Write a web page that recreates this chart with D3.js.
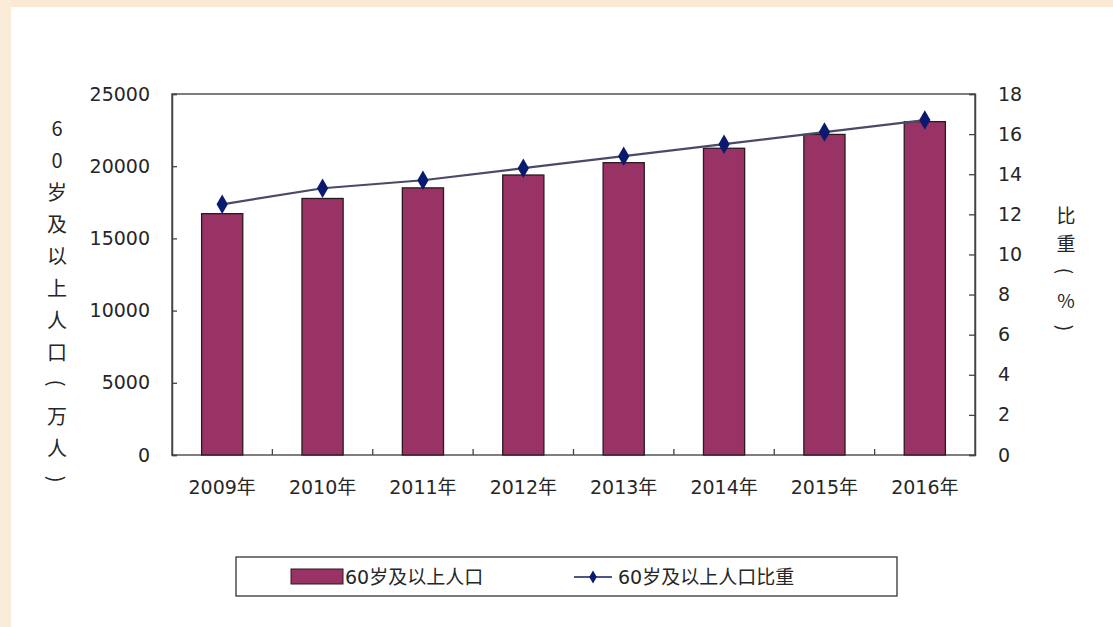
<!DOCTYPE html>
<html lang="zh">
<head>
<meta charset="utf-8">
<title>60岁及以上人口</title>
<style>
  html, body { margin: 0; padding: 0; background: #fff; }
  svg { display: block; }
  text { font-family: "DejaVu Sans", "Noto Sans CJK SC", sans-serif; fill: #262626; }
  .vtitle { font-family: "Noto Sans CJK SC", sans-serif; }
</style>
</head>
<body>
<script src="https://cdn.jsdelivr.net/npm/d3@7"></script>
<script>
// data
const years = ["2009年", "2010年", "2011年", "2012年", "2013年", "2014年", "2015年", "2016年"];
const population = [16714, 17765, 18499, 19390, 20243, 21242, 22200, 23086];
const share = [12.5, 13.3, 13.7, 14.3, 14.9, 15.5, 16.1, 16.7];
const leftTicks = [0, 5000, 10000, 15000, 20000, 25000];
const rightTicks = [0, 2, 4, 6, 8, 10, 12, 14, 16, 18];
const leftTitle = ["6", "0", "岁", "及", "以", "上", "人", "口", "(", "万", "人", ")"];
const rightTitle = ["比", "重", "(", "%", ")"];
const legendNames = ["60岁及以上人口", "60岁及以上人口比重"];

const W = 1113, H = 627;
const plot = {left: 172, right: 975, top: 94, bottom: 455};

const svg = d3.select("body").append("svg")
    .attr("width", W)
    .attr("height", H);

// beige frame strips
svg.append("rect").attr("x", 0).attr("y", 0).attr("width", W).attr("height", 7).attr("fill", "#fbe9d6");
svg.append("rect").attr("x", 0).attr("y", 0).attr("width", 11).attr("height", H).attr("fill", "#fbebd9");

const x = d3.scaleBand()
    .domain(years)
    .range([plot.left, plot.right])
    .paddingInner(0.59)
    .paddingOuter(0.295);

const xOuter = d3.scaleBand()
    .domain(years)
    .range([plot.left, plot.right]);

const yL = d3.scaleLinear().domain([0, 25000]).range([plot.bottom, plot.top]);
const yR = d3.scaleLinear().domain([0, 18]).range([plot.bottom, plot.top]);

// plot border
svg.append("rect")
    .attr("x", plot.left).attr("y", plot.top)
    .attr("width", plot.right - plot.left)
    .attr("height", plot.bottom - plot.top)
    .attr("fill", "none")
    .attr("stroke", "#555")
    .attr("stroke-width", 1.5);

// bars
svg.selectAll("rect.bar")
    .data(population)
    .enter()
    .append("rect")
    .attr("class", "bar")
    .attr("x", (d, i) => x(years[i]))
    .attr("y", d => yL(d))
    .attr("width", x.bandwidth())
    .attr("height", d => plot.bottom - yL(d))
    .attr("fill", "#993366")
    .attr("stroke", "#2a1a20")
    .attr("stroke-width", 1.3);

// left axis
const leftAxis = d3.axisLeft(yL).tickValues(leftTicks).tickFormat(d3.format("d")).tickSize(-5).tickPadding(22);
const gL = svg.append("g")
    .attr("transform", "translate(" + plot.left + ",0)")
    .call(leftAxis);
gL.select(".domain").attr("stroke", "#444").attr("stroke-width", 1.5);
gL.selectAll(".tick line").attr("stroke", "#444").attr("stroke-width", 1.3);
gL.selectAll("text").style("font-size", "19px").attr("fill", "#262626");

// right axis
const rightAxis = d3.axisRight(yR).tickValues(rightTicks).tickFormat(d3.format("d")).tickSize(-6).tickPadding(23);
const gR = svg.append("g")
    .attr("transform", "translate(" + plot.right + ",0)")
    .call(rightAxis);
gR.select(".domain").attr("stroke", "#444").attr("stroke-width", 1.5);
gR.selectAll(".tick line").attr("stroke", "#444").attr("stroke-width", 1.3);
gR.selectAll("text").style("font-size", "19px").attr("fill", "#262626");

// bottom axis: ticks between categories
const bottomTicks = years.slice(1).map(y => xOuter(y));
const gB = svg.append("g");
gB.selectAll("line")
    .data(bottomTicks)
    .enter()
    .append("line")
    .attr("x1", d => d).attr("x2", d => d)
    .attr("y1", plot.bottom).attr("y2", plot.bottom - 6)
    .attr("stroke", "#444").attr("stroke-width", 1.3);
gB.selectAll("text")
    .data(years)
    .enter()
    .append("text")
    .attr("x", d => xOuter(d) + xOuter.bandwidth() / 2)
    .attr("y", 494)
    .attr("text-anchor", "middle")
    .style("font-size", "19px")
    .text(d => d);

// line series
const line = d3.line()
    .x((d, i) => x(years[i]) + x.bandwidth() / 2)
    .y(d => yR(d));

svg.append("path")
    .datum(share)
    .attr("d", line)
    .attr("fill", "none")
    .attr("stroke", "#4a4a68")
    .attr("stroke-width", 2.2);

const diamond = d3.symbol().type(d3.symbolDiamond).size(110);
svg.selectAll("path.marker")
    .data(share)
    .enter()
    .append("path")
    .attr("class", "marker")
    .attr("d", diamond)
    .attr("transform", (d, i) => "translate(" + (x(years[i]) + x.bandwidth() / 2) + "," + yR(d) + ")")
    .attr("fill", "#0a1a6e");

// axis titles (vertical, one char per line; brackets turned sideways)
function stack(chars, cx, y0, step, size) {
  svg.append("g").selectAll("text")
      .data(chars)
      .enter()
      .append("text")
      .attr("class", "vtitle")
      .attr("text-anchor", "middle")
      .attr("dominant-baseline", "central")
      .style("font-size", size + "px")
      .attr("transform", (d, i) => "translate(" + cx + "," + (y0 + i * step) + ")" +
          (d === "(" || d === ")" ? " rotate(90)" : ""))
      .text(d => d);
}
stack(leftTitle, 57, 127, 32, 20);
stack(rightTitle, 1066, 214, 28.5, 19);

// legend
const lg = svg.append("g");
lg.append("rect")
    .attr("x", 236).attr("y", 557)
    .attr("width", 661).attr("height", 39)
    .attr("fill", "#fff")
    .attr("stroke", "#333")
    .attr("stroke-width", 1.3);
lg.append("rect")
    .attr("x", 291).attr("y", 569)
    .attr("width", 52).attr("height", 15)
    .attr("fill", "#993366")
    .attr("stroke", "#2a1a20");
lg.append("text")
    .attr("x", 345).attr("y", 584)
    .style("font-size", "19px")
    .text(legendNames[0]);
lg.append("line")
    .attr("x1", 574).attr("x2", 612)
    .attr("y1", 577).attr("y2", 577)
    .attr("stroke", "#1a1a5e").attr("stroke-width", 1.5);
lg.append("path")
    .attr("d", d3.symbol().type(d3.symbolDiamond).size(50))
    .attr("transform", "translate(593,577)")
    .attr("fill", "#0a1a6e");
lg.append("text")
    .attr("x", 618).attr("y", 584)
    .style("font-size", "19px")
    .text(legendNames[1]);
</script>
</body>
</html>
